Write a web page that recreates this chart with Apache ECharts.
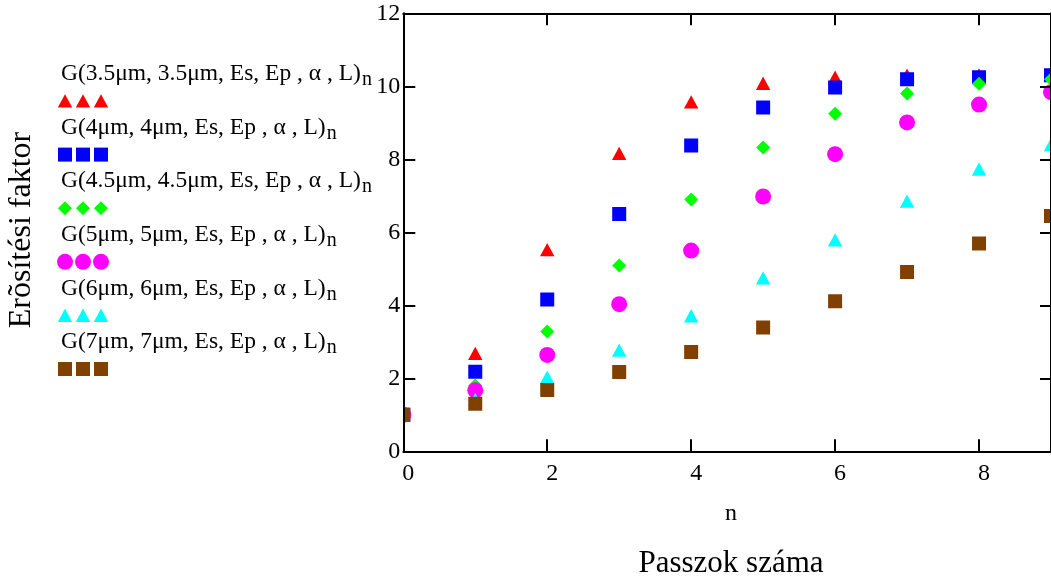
<!DOCTYPE html>
<html>
<head>
<meta charset="utf-8">
<script src="https://cdn.jsdelivr.net/npm/echarts@6/dist/echarts.min.js"></script>
<style>
  html, body { margin: 0; padding: 0; background: #ffffff; }
  #chart { width: 1051px; height: 582px; }
</style>
</head>
<body>
<div id="chart"></div>
<script>
// ---- data ----
const passes = [0, 1, 2, 3, 4, 5, 6, 7, 8, 9];
const g35 = [1, 2.68, 5.52, 8.16, 9.57, 10.08, 10.25, 10.30, 10.31, 10.33];
const g40 = [1, 2.18, 4.16, 6.50, 8.38, 9.42, 9.97, 10.19, 10.25, 10.30];
const g45 = [1, 1.80, 3.28, 5.09, 6.90, 8.32, 9.25, 9.80, 10.07, 10.19];
const g50 = [1, 1.67, 2.64, 4.03, 5.50, 6.98, 8.14, 9.01, 9.50, 9.84];
const g60 = [1, 1.42, 2.03, 2.77, 3.71, 4.75, 5.79, 6.85, 7.73, 8.40];
const g70 = [1, 1.30, 1.68, 2.17, 2.72, 3.39, 4.11, 4.91, 5.69, 6.45];

const seriesLabels = [
  'G(3.5μm, 3.5μm, Es, Ep , α , L)',
  'G(4μm, 4μm, Es, Ep , α , L)',
  'G(4.5μm, 4.5μm, Es, Ep , α , L)',
  'G(5μm, 5μm, Es, Ep , α , L)',
  'G(6μm, 6μm, Es, Ep , α , L)',
  'G(7μm, 7μm, Es, Ep , α , L)'
];
const seriesValues = [g35, g40, g45, g50, g60, g70];
const seriesMarkers = ['triangle', 'square', 'diamond', 'circle', 'triangle', 'square'];
const seriesColors = ['#ff0000', '#0000ff', '#00ff00', '#ff00ff', '#00ffff', '#804000'];

const xTitle = 'Passzok száma';
const xVarName = 'n';
const yTitle = 'Erõsítési faktor';

// ---- style ----
const FONT = '"Liberation Serif", "Times New Roman", serif';

function markerShape(kind, x, y, color) {
  const style = { fill: color, stroke: null };
  if (kind === 'triangle') {
    return { type: 'polygon', shape: { points: [[x, y - 6.8], [x + 7.2, y + 6.5], [x - 7.2, y + 6.5]] }, style: style };
  }
  if (kind === 'square') {
    return { type: 'rect', shape: { x: x - 7, y: y - 7, width: 14, height: 14 }, style: style };
  }
  if (kind === 'diamond') {
    return { type: 'polygon', shape: { points: [[x, y - 7], [x + 7, y], [x, y + 7], [x - 7, y]] }, style: style };
  }
  return { type: 'circle', shape: { cx: x, cy: y, r: 8 }, style: style };
}

const series = seriesValues.map(function (vals, i) {
  return {
    type: 'custom',
    name: seriesLabels[i],
    clip: true,
    z: 2,
    data: passes.map(function (n, k) { return [n, vals[k]]; }),
    encode: { x: 0, y: 1 },
    renderItem: function (params, api) {
      const p = api.coord([api.value(0), api.value(1)]);
      return markerShape(seriesMarkers[i], p[0], p[1], seriesColors[i]);
    }
  };
});

// legend (text line + 3 markers under it)
const legendGraphics = [];
const legendTextX = 61;
const legendTextY0 = 74;
const legendMarkY0 = 101;
const legendStep = 53.6;
const legendMarkX = [65, 83, 101];
seriesLabels.forEach(function (lab, i) {
  legendGraphics.push({
    type: 'text',
    x: legendTextX,
    y: legendTextY0 + i * legendStep,
    silent: true,
    style: {
      text: '{a|' + lab + '}{s|n}',
      align: 'left',
      verticalAlign: 'middle',
      fill: '#000',
      rich: {
        a: { fontFamily: FONT, fontSize: 23.5, lineHeight: 26, fill: '#000' },
        s: { fontFamily: FONT, fontSize: 20, lineHeight: 20, padding: [12, 0, 0, 1], fill: '#000' }
      }
    }
  });
  legendMarkX.forEach(function (mx) {
    const g = markerShape(seriesMarkers[i], mx, legendMarkY0 + i * legendStep, seriesColors[i]);
    g.silent = true;
    legendGraphics.push(g);
  });
});

legendGraphics.push({
  type: 'text', x: 22, y: 230, rotation: Math.PI / 2, silent: true,
  style: { text: yTitle, fontFamily: FONT, fontSize: 32, fill: '#000', align: 'center', verticalAlign: 'middle' }
});
legendGraphics.push({
  type: 'text', x: 731, y: 514, silent: true,
  style: { text: xVarName, fontFamily: FONT, fontSize: 24, fill: '#000', align: 'center', verticalAlign: 'middle' }
});
legendGraphics.push({
  type: 'text', x: 731, y: 564, silent: true,
  style: { text: xTitle, fontFamily: FONT, fontSize: 31, fill: '#000', align: 'center', verticalAlign: 'middle' }
});

const axisLineStyle = { color: '#000', width: 2 };
const labelStyle = { fontFamily: FONT, fontSize: 24, color: '#000' };

const option = {
  backgroundColor: '#ffffff',
  animation: false,
  grid: { left: 403.3, top: 13.3, width: 649, height: 438, containLabel: false },
  xAxis: [
    {
      type: 'value', position: 'bottom', min: 0, max: 9, interval: 2, z: 5,
      axisLine: { show: true, onZero: false, lineStyle: axisLineStyle },
      axisTick: { show: true, inside: true, length: 12, lineStyle: axisLineStyle },
      axisLabel: Object.assign({ margin: 10, padding: [0, 0, 0, 10], showMaxLabel: false }, labelStyle),
      splitLine: { show: false }
    },
    {
      type: 'value', position: 'top', min: 0, max: 9, interval: 2, z: 5,
      axisLine: { show: true, onZero: false, lineStyle: axisLineStyle },
      axisTick: { show: true, inside: true, length: 12, lineStyle: axisLineStyle },
      axisLabel: { show: false },
      splitLine: { show: false }
    }
  ],
  yAxis: [
    {
      type: 'value', position: 'left', min: 0, max: 12, interval: 2, z: 5,
      axisLine: { show: true, onZero: false, lineStyle: axisLineStyle },
      axisTick: { show: true, inside: true, length: 12, lineStyle: axisLineStyle },
      axisLabel: Object.assign({ margin: 3, padding: [5, 0, 0, 0] }, labelStyle),
      splitLine: { show: false }
    },
    {
      type: 'value', position: 'right', min: 0, max: 12, interval: 2, z: 5,
      axisLine: { show: true, onZero: false, lineStyle: axisLineStyle },
      axisTick: { show: true, inside: true, length: 11, lineStyle: axisLineStyle },
      axisLabel: { show: false },
      splitLine: { show: false }
    }
  ],
  graphic: legendGraphics,
  series: series
};

const chart = echarts.init(document.getElementById('chart'), null, { renderer: 'canvas' });
chart.setOption(option);
</script>
</body>
</html>
